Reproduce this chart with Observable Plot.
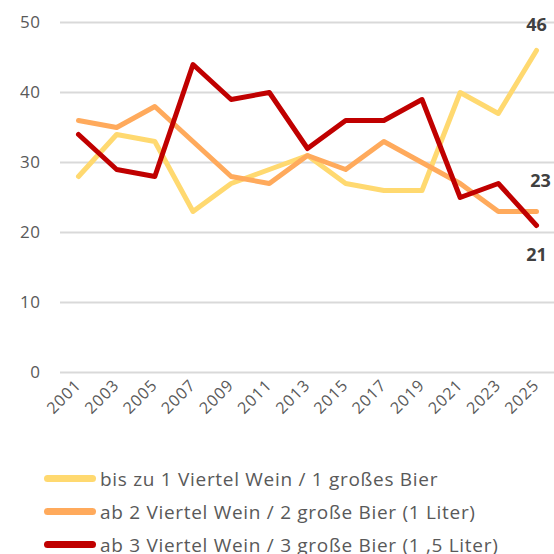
<!DOCTYPE html>
<html><head><meta charset="utf-8">
<script src="https://cdn.jsdelivr.net/npm/d3@7"></script>
<script src="https://cdn.jsdelivr.net/npm/@observablehq/plot@0.6"></script>
<style>
body{margin:0;background:#fff;font-family:"Open Sans",sans-serif;}
#legend{margin-left:44px;margin-top:22px;}
.item{display:flex;align-items:center;height:33px;font-size:19px;letter-spacing:0.7px;color:#595959;}
.sw{width:52px;height:7px;border-radius:3.5px;margin-right:4px;}
.xax text{letter-spacing:1px;}
.yax text{letter-spacing:0.5px;}
</style>
</head><body>
<div id="chart"></div>
<div id="legend"></div>
<script>
const years = [2001,2003,2005,2007,2009,2011,2013,2015,2017,2019,2021,2023,2025];
const seriesNames = [
  "bis zu 1 Viertel Wein / 1 großes Bier",
  "ab 2 Viertel Wein / 2 große Bier (1 Liter)",
  "ab 3 Viertel Wein / 3 große Bier (1 ,5 Liter)"
];
const s1 = [28,34,33,23,27,29,31,27,26,26,40,37,46];
const s2 = [36,35,38,33,28,27,31,29,33,30,27,23,23];
const s3 = [34,29,28,44,39,40,32,36,36,39,25,27,21];
const yTicks = [0,10,20,30,40,50];
const colors = ["#ffd970","#ffaa5c","#c00000"];

const seriesValues = [s1,s2,s3];
const data = [];
seriesValues.forEach((vals,i)=>vals.forEach((v,j)=>data.push({year:years[j],value:v,series:seriesNames[i]})));
const last = data.filter(d=>d.year===2025);
const off = {[seriesNames[0]]:[0,-25],[seriesNames[1]]:[4,-30],[seriesNames[2]]:[0,30]};

const chart = Plot.plot({
  width:554,height:440,
  marginLeft:60,marginRight:0,marginTop:22,marginBottom:68,
  insetLeft:18,insetRight:18,
  style:{fontFamily:"Open Sans, sans-serif",fontSize:"16px",color:"#595959",background:"#fff"},
  x:{domain:[2001,2025]},
  y:{domain:[0,50]},
  color:{domain:seriesNames,range:colors},
  marks:[
    Plot.ruleY(yTicks,{stroke:"#d9d9d9",strokeWidth:2}),
    Plot.axisY(yTicks,{tickSize:0,tickPadding:20,label:null,fontSize:17,fill:"#595959",className:"yax"}),
    Plot.axisX(years,{tickSize:0,tickRotate:-45,tickFormat:d=>String(d),label:null,fontSize:16,fill:"#595959",tickPadding:10,className:"xax"}),
    Plot.line(data,{x:"year",y:"value",z:"series",stroke:"series",strokeWidth:5,strokeLinejoin:"round",strokeLinecap:"round"}),
    ...last.map(d=>Plot.text([d],{x:"year",y:"value",text:d=>String(d.value),dx:off[d.series][0],dy:off[d.series][1],fontWeight:"bold",fontSize:18,fill:"#404040"}))
  ]
});
document.getElementById("chart").appendChild(chart);
const lg = document.getElementById("legend");
seriesNames.forEach((n,i)=>{
  const it=document.createElement("div");it.className="item";
  const sw=document.createElement("div");sw.className="sw";sw.style.background=colors[i];
  const t=document.createElement("span");t.textContent=n;
  it.appendChild(sw);it.appendChild(t);lg.appendChild(it);
});
</script>
</body></html>
